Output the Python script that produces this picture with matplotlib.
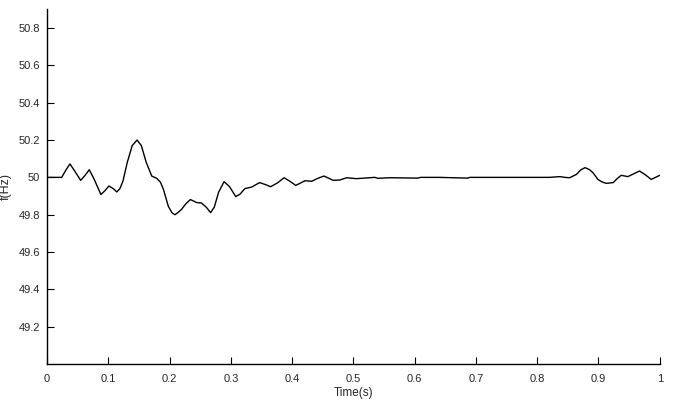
import matplotlib
matplotlib.use("Agg")
import matplotlib.pyplot as plt

# frequency trace
t = [0.0, 0.024, 0.031, 0.0375, 0.046, 0.055, 0.062, 0.069, 0.077, 0.088,
     0.095, 0.101, 0.108, 0.114, 0.119, 0.124, 0.131, 0.139, 0.147, 0.154,
     0.162, 0.171, 0.179, 0.185, 0.190, 0.198, 0.204, 0.209, 0.215, 0.220,
     0.227, 0.234, 0.240, 0.244, 0.252, 0.260, 0.267, 0.273, 0.280, 0.289,
     0.298, 0.308, 0.315, 0.323, 0.334, 0.347, 0.356, 0.365, 0.376, 0.387,
     0.396, 0.406, 0.414, 0.421, 0.432, 0.442, 0.452, 0.460, 0.467, 0.478,
     0.489, 0.505, 0.535, 0.540, 0.56, 0.605, 0.61, 0.64, 0.687, 0.69,
     0.75, 0.82, 0.837, 0.845, 0.853, 0.864, 0.871, 0.878, 0.885, 0.891,
     0.899, 0.906, 0.913, 0.924, 0.931, 0.937, 0.948, 0.958, 0.967, 0.976,
     0.986, 1.0]
f = [50.0, 50.0, 50.04, 50.072, 50.03, 49.984, 50.01, 50.041, 49.99, 49.908,
     49.93, 49.954, 49.94, 49.922, 49.94, 49.98, 50.08, 50.17, 50.2, 50.17,
     50.08, 50.007, 49.995, 49.975, 49.936, 49.845, 49.81, 49.80, 49.815, 49.83,
     49.86, 49.881, 49.872, 49.865, 49.863, 49.84, 49.811, 49.84, 49.92, 49.977,
     49.95, 49.897, 49.91, 49.94, 49.948, 49.972, 49.962, 49.95, 49.97, 49.998,
     49.98, 49.957, 49.97, 49.982, 49.979, 49.995, 50.007, 49.995, 49.984, 49.986,
     49.998, 49.993, 50.0, 49.995, 49.998, 49.996, 50.0, 50.0, 49.996, 50.0,
     50.0, 50.0, 50.004, 50.0, 49.998, 50.016, 50.04, 50.052, 50.042, 50.025,
     49.989, 49.975, 49.968, 49.972, 49.995, 50.011, 50.004, 50.02, 50.034, 50.015,
     49.989, 50.011]

xticks = [0, 0.1, 0.2, 0.3, 0.4, 0.5, 0.6, 0.7, 0.8, 0.9, 1]
xticklabels = ["0", "0.1", "0.2", "0.3", "0.4", "0.5", "0.6", "0.7", "0.8", "0.9", "1"]
yticks = [49.2, 49.4, 49.6, 49.8, 50.0, 50.2, 50.4, 50.6, 50.8]
yticklabels = ["49.2", "49.4", "49.6", "49.8", "50", "50.2", "50.4", "50.6", "50.8"]

plt.rcParams['font.family'] = ['Liberation Sans', 'DejaVu Sans']
plt.rcParams['font.size'] = 8
plt.rcParams['xtick.direction'] = 'in'
plt.rcParams['ytick.direction'] = 'in'

fig = plt.figure(figsize=(6.76, 4.08), dpi=100)
ax = fig.add_axes([0.0695, 0.1078, 0.9065, 0.8692])
ax.plot(t, f, color='k', lw=1.0, solid_joinstyle='round')

ax.set_xlim(0, 1)
ax.set_ylim(49.0, 50.9)
ax.set_xticks(xticks)
ax.set_xticklabels(xticklabels)
ax.set_yticks(yticks)
ax.set_yticklabels(yticklabels)
ax.tick_params(direction='in', length=5, width=0.8, colors='k',
               labelcolor='#262626', labelsize=8)
ax.tick_params(axis='x', pad=7)
ax.tick_params(axis='y', pad=5)
for s in ['top', 'right']:
    ax.spines[s].set_visible(False)
for s in ['left', 'bottom']:
    ax.spines[s].set_linewidth(1.0)

ax.set_xlabel('Time(s)', color='#262626', fontsize=8.5, labelpad=2)
ax.set_ylabel('f(Hz)', color='#262626', fontsize=9)
ax.yaxis.set_label_coords(-0.058, 0.5)

fig.savefig('out.png', dpi=100)
